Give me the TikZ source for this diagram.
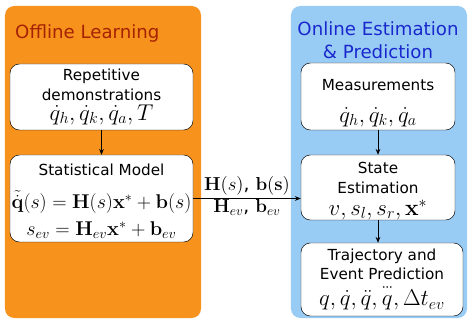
\RequirePackage{fix-cm}
\documentclass[tikz,border=0pt]{standalone}
\usepackage{amsmath, amssymb}
\usepackage[no-math]{fontspec}
\setmainfont{DejaVu Sans}
\usepackage{tikz}
\usepackage{xcolor}
\usetikzlibrary{arrows.meta, positioning, calc}
\definecolor{offlinecolor}{RGB}{247,146,28}
\definecolor{onlinecolor}{RGB}{153,204,245}
\definecolor{offlinetitle}{RGB}{165,35,5}
\definecolor{onlinetitle}{RGB}{25,40,205}
% triple dot built from math dots
\newcommand{\tripledot}[1]{\overset{\mathord{\cdot}\mkern-1mu\mathord{\cdot}\mkern-1mu\mathord{\cdot}}{#1}}
\newcommand{\mathbig}{\fontsize{19.5}{22}\selectfont}
\newcommand{\mathbigger}{\fontsize{17}{21}\selectfont}
\tikzstyle{arrow} = [-{Stealth[length=5pt,width=4pt]}, semithick]
\tikzstyle{stagebox} = [draw=black, fill=white, rounded corners=8pt, align=center, inner sep=0pt, font=\fontsize{13}{16.5}\selectfont]

\begin{document}
\begin{tikzpicture}[x=0.03cm, y=-0.03cm]
    \useasboundingbox (0,0) rectangle (468,320);

    % Offline panel
    \node[draw=none, fill=offlinecolor, rounded corners=8pt, minimum width=5.88cm, minimum height=9.36cm, inner sep=0pt] (offline) at (103,162) {};
    \node[anchor=west, text=offlinetitle, font=\fontsize{15.5}{19}\selectfont, inner sep=0pt] (offline_title) at (15,33) {Offline Learning};

    \node[stagebox, minimum width=5.49cm, minimum height=1.98cm] (demo) at (101.5,97)
        {Repetitive\\demonstrations\\[0.5pt]{\mathbig $\dot q_h, \dot q_k, \dot q_a, T$}};
    \node[stagebox, minimum width=5.49cm, minimum height=2.61cm] (model) at (101.5,198.5)
        {\rule{0pt}{14.5pt}Statistical Model\\[12pt]{\mathbigger $\tilde{\dot{\mathbf{q}}}(s) = \mathbf{H}(s)\mathbf{x}^{*} + \mathbf{b}(s)$}\\[7pt]{\mathbigger $s_{ev} = \mathbf{H}_{ev}\mathbf{x}^{*} + \mathbf{b}_{ev}$}};

    \draw[arrow] (demo) -- (model);

    % Online panel
    \node[draw=none, fill=onlinecolor, rounded corners=8pt, minimum width=5.28cm, minimum height=9.36cm, inner sep=0pt] (online) at (379,162) {};
    \node[align=center, text=onlinetitle, font=\fontsize{15.5}{19.5}\selectfont, inner sep=0pt] (online_title) at (378,40) {Online Estimation\\\& Prediction};

    \node[stagebox, minimum width=4.62cm, minimum height=2.01cm] (meas) at (378,96.5)
        {\rule{0pt}{21pt}Measurements\\[10.5pt]{\mathbig $\dot q_h, \dot q_k, \dot q_a$}};
    \node[stagebox, minimum width=4.62cm, minimum height=1.95cm] (state) at (378,187.5)
        {\rule{0pt}{16pt}State\\Estimation\\[2.5pt]{\mathbig $v, s_l, s_r, \mathbf{x}^{*}$}};
    \node[stagebox, minimum width=4.86cm, minimum height=2.19cm] (traj) at (382,279.5)
        {Trajectory and\\Event Prediction\\[1pt]{\mathbig $q, \dot q, \ddot q, \tripledot{q}, \Delta t_{ev}$}};

    \draw[arrow] (meas) -- (state);
    \draw[arrow] (state.south) -- (state.south |- traj.north);

    % Model hand-over
    \draw[arrow] (model.east) -- (model.east -| state.west) coordinate (handover);
    \node[anchor=south, font=\fontsize{16}{19}\selectfont, inner sep=2.5pt] (handover_top) at ($(model.east)!0.5!(handover)$) {$\mathbf{H}(s)$, $\mathbf{b(s)}$};
    \node[anchor=north, font=\fontsize{16}{19}\selectfont, inner sep=1pt] (handover_bot) at ($(model.east)!0.5!(handover)$) {$\mathbf{H}_{ev}$, $\mathbf{b}_{ev}$};

\end{tikzpicture}
\end{document}
